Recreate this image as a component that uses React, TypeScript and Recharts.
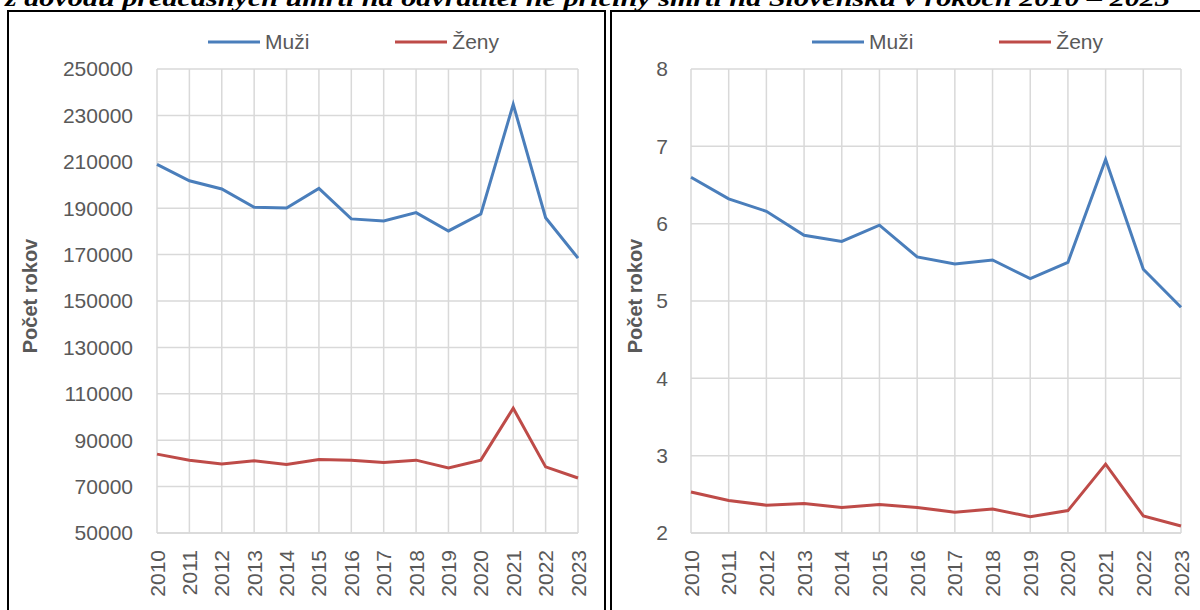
import React from 'react';
import { LineChart, Line, XAxis, YAxis, CartesianGrid, Legend } from 'recharts';

const years = ['2010', '2011', '2012', '2013', '2014', '2015', '2016', '2017', '2018', '2019', '2020', '2021', '2022', '2023'];

const muziPocet = [208900, 201800, 198300, 190400, 190100, 198500, 185400, 184500, 188100, 180200, 187500, 234800, 185900, 168500];
const zenyPocet = [84000, 81400, 79700, 81100, 79500, 81700, 81400, 80400, 81400, 78000, 81400, 103800, 78500, 73700];

const muziNaObyv = [6.6, 6.32, 6.16, 5.85, 5.77, 5.98, 5.57, 5.48, 5.53, 5.29, 5.5, 6.83, 5.41, 4.92];
const zenyNaObyv = [2.53, 2.42, 2.36, 2.38, 2.33, 2.37, 2.33, 2.27, 2.31, 2.21, 2.29, 2.89, 2.22, 2.09];

const leftTicks = [50000, 70000, 90000, 110000, 130000, 150000, 170000, 190000, 210000, 230000, 250000];
const rightTicks = [2, 3, 4, 5, 6, 7, 8];

const seriesNames = ['Muži', 'Ženy'];
const yTitle = 'Počet rokov';
const title = 'z dôvodu predčasných úmrtí na odvrátiteľné príčiny smrti na Slovensku v rokoch 2010 – 2023';

const BLUE = '#4a7ebb';
const RED = '#be4b48';
const GRID = '#d9d9d9';
const TEXT = '#595959';
const FONT = '"Liberation Sans", Arial, sans-serif';
const SERIF = '"Liberation Serif", "Times New Roman", serif';

const leftData = years.map((y, i) => ({ year: y, muzi: muziPocet[i], zeny: zenyPocet[i] }));
const rightData = years.map((y, i) => ({ year: y, muzi: muziNaObyv[i], zeny: zenyNaObyv[i] }));

const YearTick = (props: any) => {
  const { x, y, payload } = props;
  return (
    <text
      x={x}
      y={y + 1}
      transform={`rotate(-90 ${x} ${y + 1})`}
      textAnchor="end"
      dominantBaseline="central"
      fill={TEXT}
      fontSize={21}
      style={{ fontFamily: FONT }}
    >
      {payload.value}
    </text>
  );
};

const AxisTitle = (props: any) => {
  const vb = props.viewBox || { x: 0, y: 69, width: 0, height: 464 };
  const cx = vb.x + props.shiftX;
  const cy = vb.y + vb.height / 2 - 5;
  return (
    <text
      x={cx}
      y={cy}
      transform={`rotate(-90 ${cx} ${cy})`}
      textAnchor="middle"
      dominantBaseline="central"
      fill={TEXT}
      fontSize={20}
      fontWeight="bold"
      style={{ fontFamily: FONT }}
    >
      {yTitle}
    </text>
  );
};

const LegendContent = (props: any) => {
  const pad = props.padLeft;
  const colors = [BLUE, RED];
  return (
    <div style={{ height: 24, lineHeight: '24px', display: 'flex', alignItems: 'center', paddingLeft: pad, fontFamily: FONT }}>
      {seriesNames.map((n, i) => (
        <div key={n} style={{ display: 'flex', alignItems: 'center', marginRight: i === 0 ? 86 : 0 }}>
          <svg width={52} height={6} style={{ display: 'block' }}>
            <line x1={0} y1={3} x2={52} y2={3} stroke={colors[i]} strokeWidth={3} />
          </svg>
          <span style={{ marginLeft: 5, fontSize: 21, color: TEXT, whiteSpace: 'nowrap' }}>{n}</span>
        </div>
      ))}
    </div>
  );
};

type PanelProps = {
  data: any[];
  width: number;
  yWidth: number;
  tickMargin: number;
  marginRight: number;
  domain: [number, number];
  ticks: number[];
  titleX: number;
  legendPad: number;
};

const Panel = (p: PanelProps) => (
  <LineChart
    width={p.width}
    height={610}
    data={p.data}
    margin={{ top: 45, right: p.marginRight, bottom: 0, left: 0 }}
  >
    <CartesianGrid stroke={GRID} strokeWidth={1.5} />
    <XAxis
      dataKey="year"
      interval={0}
      padding={{ left: 0, right: 0 }}
      axisLine={{ stroke: GRID, strokeWidth: 1.5 }}
      tickLine={false}
      tickSize={0}
      tickMargin={16}
      height={77}
      tick={<YearTick />}
    />
    <YAxis
      width={p.yWidth}
      domain={p.domain}
      ticks={p.ticks}
      interval={0}
      axisLine={false}
      tickLine={false}
      tickSize={0}
      tickMargin={p.tickMargin}
      tick={{ fill: TEXT, fontSize: 21, fontFamily: FONT }}
      label={<AxisTitle shiftX={p.titleX} />}
    />
    <Legend
      verticalAlign="top"
      content={<LegendContent padLeft={p.legendPad} />}
      wrapperStyle={{ top: 30, left: 0, width: p.width }}
    />
    <Line type="linear" dataKey="muzi" name={seriesNames[0]} stroke={BLUE} strokeWidth={3} dot={false} isAnimationActive={false} />
    <Line type="linear" dataKey="zeny" name={seriesNames[1]} stroke={RED} strokeWidth={3} dot={false} isAnimationActive={false} />
  </LineChart>
);

export default function App() {
  return (
    <div
      style={{
        position: 'absolute',
        left: 0,
        top: 0,
        width: 1200,
        height: 610,
        overflow: 'hidden',
        background: '#fff',
        fontFamily: FONT,
      }}
    >
      <svg width={1200} height={20} style={{ position: 'absolute', left: 0, top: 0 }}>
        <text
          x={5}
          y={6}
          fontStyle="italic"
          fontWeight="bold"
          fontSize={24}
          textLength={1165}
          lengthAdjust="spacingAndGlyphs"
          fill="#000"
          style={{ fontFamily: SERIF }}
        >
          {title}
        </text>
      </svg>
      <div style={{ position: 'absolute', left: 7, top: 10, width: 599, height: 700, border: '2px solid #000', boxSizing: 'border-box' }} />
      <div style={{ position: 'absolute', left: 610, top: 10, width: 700, height: 700, border: '2px solid #000', boxSizing: 'border-box' }} />
      <div style={{ position: 'absolute', left: 0, top: 0 }}>
        <Panel
          data={leftData}
          width={606}
          yWidth={157}
          tickMargin={24}
          marginRight={28}
          domain={[50000, 250000]}
          ticks={leftTicks}
          titleX={30}
          legendPad={208}
        />
      </div>
      <div style={{ position: 'absolute', left: 606, top: 0 }}>
        <Panel
          data={rightData}
          width={594}
          yWidth={85}
          tickMargin={23}
          marginRight={19}
          domain={[2, 8]}
          ticks={rightTicks}
          titleX={29}
          legendPad={206}
        />
      </div>
    </div>
  );
}
